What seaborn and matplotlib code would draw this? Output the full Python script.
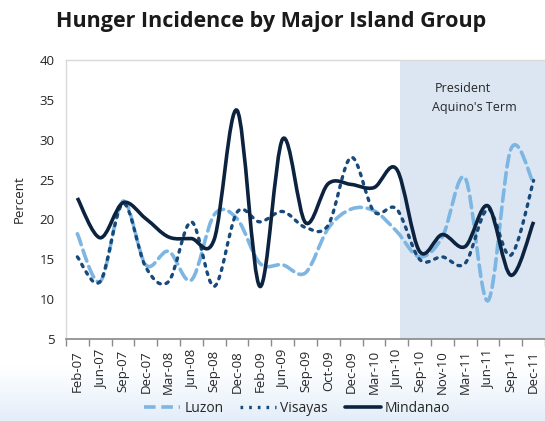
"""Hunger incidence by major island group, smoothed line chart."""

import matplotlib.pyplot as plt
import numpy as np
import seaborn as sns
from matplotlib.lines import Line2D
from matplotlib.patches import PathPatch
from matplotlib.path import Path

periods = [
    "Feb-07", "Jun-07", "Sep-07", "Dec-07", "Mar-08", "Jun-08", "Sep-08",
    "Dec-08", "Feb-09", "Jun-09", "Sep-09", "Oct-09", "Dec-09", "Mar-10",
    "Jun-10", "Sep-10", "Nov-10", "Mar-11", "Jun-11", "Sep-11", "Dec-11",
]
luzon = [18.2, 12.2, 22.3, 14.3, 16.0, 12.4, 20.6, 20.1, 14.5, 14.3, 13.3,
         18.9, 21.3, 21.1, 18.5, 15.3, 17.8, 25.2, 9.8, 28.8, 24.5]
visayas = [15.3, 12.2, 22.0, 14.0, 12.2, 19.7, 11.6, 20.9, 19.7, 21.0, 19.0,
           19.3, 27.8, 21.0, 21.3, 15.0, 15.3, 14.5, 21.3, 15.5, 24.9]
mindanao = [22.7, 17.7, 22.1, 20.1, 17.8, 17.6, 17.5, 33.7, 11.6, 30.1, 19.6,
            24.5, 24.4, 24.0, 26.3, 16.0, 18.1, 16.6, 21.7, 13.0, 19.7]
term_start = 14.16

sns.set_theme(style="white")
plt.rcParams["font.family"] = ["Open Sans", "DejaVu Sans"]


def smooth_path(xs, ys):
    """Bezier path through the points, Catmull-Rom style like Excel's smoothing."""
    pts = np.column_stack([xs, ys]).astype(float)
    verts = [pts[0]]
    codes = [Path.MOVETO]
    n = len(pts)
    for i in range(n - 1):
        p0 = pts[max(i - 1, 0)]
        p1 = pts[i]
        p2 = pts[i + 1]
        p3 = pts[min(i + 2, n - 1)]
        c1 = p1 + (p2 - p0) / 6
        c2 = p2 - (p3 - p1) / 6
        verts += [c1, c2, p2]
        codes += [Path.CURVE4] * 3
    return Path(verts, codes)


fig = plt.figure(figsize=(5.45, 4.21), dpi=100)

# faint blue wash at the bottom of the slide
bg = fig.add_axes([0, 0, 1, 0.13], zorder=-10)
grad = np.linspace(0, 1, 64).reshape(-1, 1)
bg.imshow(grad, aspect="auto", cmap=sns.blend_palette(["#e3eef9", "#ffffff"],
          as_cmap=True), origin="lower", extent=(0, 1, 0, 1))
bg.set_axis_off()

ax = fig.add_axes([0.121, 0.195, 0.879, 0.662])
ax.set_facecolor("white")

x = np.arange(len(periods))
ax.set_xlim(-0.5, 20.3)
ax.set_ylim(5, 40)
ax.axvspan(term_start, 21, color="#dce6f2", zorder=0, lw=0)

series = [
    ("Luzon", luzon, "#7db5e3", (0, (3.2, 1.6)), 2.6),
    ("Visayas", visayas, "#17497a", (0, (0.8, 1.8)), 2.4),
    ("Mindanao", mindanao, "#0c2340", "solid", 2.6),
]
handles = []
for name, vals, color, ls, lw in series:
    ax.add_patch(PathPatch(smooth_path(x, vals), fill=False, edgecolor=color,
                           linestyle=ls, linewidth=lw, capstyle="round"
                           if ls != "solid" else "butt", zorder=3))
    handles.append(Line2D([], [], color=color, linestyle=ls, linewidth=lw))

ax.text(15.65, 36.0, "President", fontsize=9, color="#262626")
ax.text(15.55, 33.6, "Aquino's Term", fontsize=9, color="#262626")

ax.set_xticks(x)
ax.set_xticklabels(periods, rotation=90, fontsize=9.5, color="#262626")
ax.set_xticks(np.arange(-0.5, 21, 1), minor=True)
ax.tick_params(axis="x", which="major", length=0, pad=8)
ax.tick_params(axis="x", which="minor", length=5, color="#8c8c8c", width=1,
               direction="out", bottom=True)
ax.set_yticks(range(5, 41, 5))
ax.tick_params(axis="y", length=0, labelsize=9.5, labelcolor="#262626", pad=8)
ax.set_ylabel("Percent", fontsize=9.5, color="#262626", labelpad=10)

for side in ["left", "top"]:
    ax.spines[side].set_color("#d9d9d9")
    ax.spines[side].set_linewidth(1)
ax.spines["bottom"].set_color("#8c8c8c")
ax.spines["right"].set_visible(False)

fig.suptitle("Hunger Incidence by Major Island Group", fontsize=15.5,
             fontweight="bold", color="#1a1a1a", x=0.497, y=0.975, va="top")

fig.legend(handles, ["Luzon", "Visayas", "Mindanao"], loc="lower center",
           ncol=3, frameon=False, fontsize=10, bbox_to_anchor=(0.545, -0.018),
           handlelength=2.6, columnspacing=1.2, handletextpad=0.3)

fig.savefig("out.png", dpi=100)
